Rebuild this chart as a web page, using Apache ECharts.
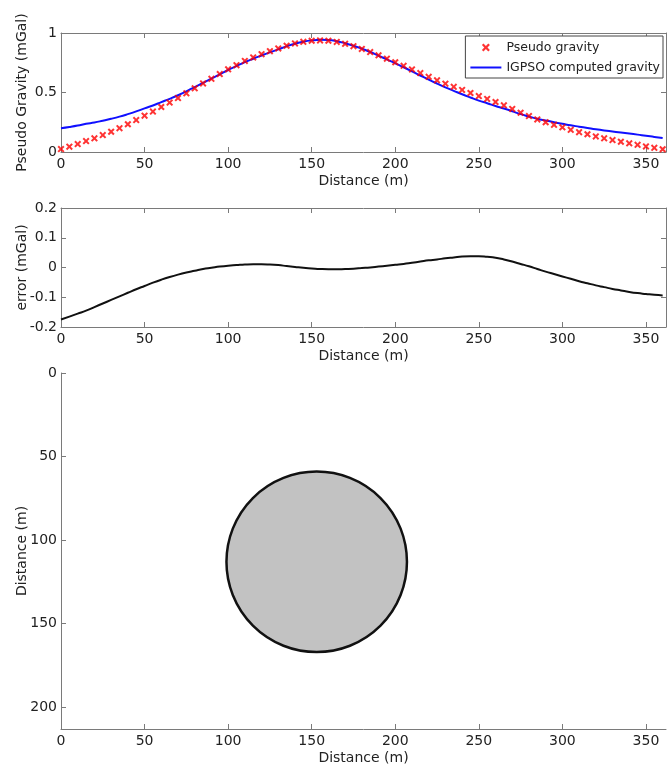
<!DOCTYPE html>
<html>
<head>
<meta charset="utf-8">
<script src="https://cdn.jsdelivr.net/npm/echarts/dist/echarts.min.js"></script>
<style>
  html, body { margin: 0; padding: 0; background: #fff; }
  #chart { width: 667px; height: 767px; }
</style>
</head>
<body>
<div id="chart"></div>
<script>
// profile positions (m)
const distance = [0, 5, 10, 15, 20, 25, 30, 35, 40, 45, 50, 55, 60, 65, 70, 75, 80, 85, 90, 95,
  100, 105, 110, 115, 120, 125, 130, 135, 140, 145, 150, 155, 160, 165, 170, 175, 180, 185, 190, 195,
  200, 205, 210, 215, 220, 225, 230, 235, 240, 245, 250, 255, 260, 265, 270, 275, 280, 285, 290, 295,
  300, 305, 310, 315, 320, 325, 330, 335, 340, 345, 350, 355, 360]

// red crosses
const pseudoGravity = [0.025, 0.045, 0.067, 0.092, 0.115, 0.142, 0.170, 0.200, 0.233, 0.268,
  0.305, 0.340, 0.378, 0.415, 0.453, 0.493, 0.535, 0.576, 0.615, 0.655,
  0.695, 0.730, 0.765, 0.795, 0.822, 0.847, 0.870, 0.893, 0.912, 0.926,
  0.935, 0.938, 0.935, 0.925, 0.909, 0.889, 0.866, 0.840, 0.812, 0.784,
  0.754, 0.724, 0.694, 0.663, 0.632, 0.602, 0.574, 0.548, 0.522, 0.496,
  0.470, 0.446, 0.420, 0.392, 0.362, 0.330, 0.302, 0.274, 0.250, 0.228,
  0.207, 0.186, 0.167, 0.149, 0.131, 0.115, 0.100, 0.086, 0.073, 0.060,
  0.047, 0.035, 0.023]

// blue line
const computedGravity = [0.200, 0.210, 0.222, 0.237, 0.248, 0.263, 0.279, 0.297, 0.318, 0.341,
  0.367, 0.391, 0.419, 0.447, 0.477, 0.510, 0.546, 0.581, 0.616, 0.652,
  0.689, 0.722, 0.755, 0.784, 0.811, 0.837, 0.862, 0.888, 0.910, 0.927,
  0.938, 0.943, 0.941, 0.931, 0.914, 0.893, 0.868, 0.840, 0.809, 0.778,
  0.745, 0.712, 0.678, 0.643, 0.608, 0.575, 0.543, 0.514, 0.485, 0.458,
  0.432, 0.410, 0.387, 0.365, 0.342, 0.318, 0.298, 0.279, 0.264, 0.250,
  0.237, 0.224, 0.213, 0.202, 0.191, 0.181, 0.172, 0.163, 0.155, 0.146,
  0.136, 0.127, 0.117]

// middle panel
const errorValues = [-0.175, -0.165, -0.155, -0.145, -0.133, -0.121, -0.109, -0.097, -0.085, -0.073,
  -0.062, -0.051, -0.041, -0.032, -0.024, -0.017, -0.011, -0.005, -0.001, 0.003,
  0.006, 0.008, 0.010, 0.011, 0.011, 0.010, 0.008, 0.005, 0.002, -0.001,
  -0.003, -0.005, -0.006, -0.006, -0.005, -0.004, -0.002, 0.000, 0.003, 0.006,
  0.009, 0.012, 0.016, 0.020, 0.024, 0.027, 0.031, 0.034, 0.037, 0.038,
  0.038, 0.036, 0.033, 0.027, 0.020, 0.012, 0.004, -0.005, -0.014, -0.022,
  -0.030, -0.038, -0.046, -0.053, -0.060, -0.066, -0.072, -0.077, -0.082, -0.086,
  -0.089, -0.092, -0.094]

// sphere model: [x, depth, radius]
const body = [[153, 113, 54]]

const gravityTicks = [0, 0.5, 1]
const errorTicks = [-0.2, -0.1, 0, 0.1, 0.2]
const depthTicks = [0, 50, 100, 150, 200]

const font = 'DejaVu Sans'
const axisGray = '#7a7a7a'
const textColor = '#222'
const crossPath = 'path://M0,2L2,0L5,3L8,0L10,2L7,5L10,8L8,10L5,7L2,10L0,8L3,5Z'
const lineIcon = 'path://M0,0H31V2H0Z'

const pairs = (ys) => distance.map((d, i) => [d, ys[i]])

const lineOf = { show: true, onZero: false, lineStyle: { color: axisGray, width: 1 } }
const tickOf = { show: true, inside: true, length: 5, lineStyle: { color: axisGray } }

function bottomAxis(grid) {
  return {
    type: 'value', gridIndex: grid, position: 'bottom',
    min: 0, max: 362, interval: 50,
    name: 'Distance (m)', nameLocation: 'middle', nameGap: 22, nameMoveOverlap: false,
    nameTextStyle: { fontFamily: font, fontSize: 14, color: textColor },
    axisLine: lineOf,
    axisTick: tickOf,
    axisLabel: { margin: 5, fontFamily: font, fontSize: 14, color: textColor, showMaxLabel: false },
    splitLine: { show: false }
  }
}

function topAxis(grid) {
  return {
    type: 'value', gridIndex: grid, position: 'top',
    min: 0, max: 362, interval: 50,
    axisLine: lineOf,
    axisTick: tickOf,
    axisLabel: { show: false },
    splitLine: { show: false }
  }
}

function leftAxis(grid, name, ticks, extra) {
  return Object.assign({
    type: 'value', gridIndex: grid, position: 'left',
    min: ticks[0], max: ticks[ticks.length - 1], interval: ticks[1] - ticks[0],
    name: name, nameLocation: 'middle', nameGap: 32, nameMoveOverlap: false,
    nameTextStyle: { fontFamily: font, fontSize: 14, color: textColor },
    axisLine: lineOf,
    axisTick: tickOf,
    axisLabel: { margin: 4, fontFamily: font, fontSize: 14, color: textColor },
    splitLine: { show: false }
  }, extra || {})
}

function rightAxis(grid, ticks) {
  return {
    type: 'value', gridIndex: grid, position: 'right',
    min: ticks[0], max: ticks[ticks.length - 1], interval: ticks[1] - ticks[0],
    axisLine: lineOf,
    axisTick: tickOf,
    axisLabel: { show: false },
    splitLine: { show: false }
  }
}

const chart = echarts.init(document.getElementById('chart'))

chart.setOption({
  animation: false,
  backgroundColor: '#fff',
  grid: [
    { left: 61, right: 1, top: 33, height: 119, outerBoundsMode: 'none' },
    { left: 61, right: 1, top: 208, height: 119, outerBoundsMode: 'none' },
    { left: 61, right: 1, top: 373, height: 356, outerBoundsMode: 'none' }
  ],
  legend: {
    orient: 'vertical',
    right: 4, top: 36,
    itemWidth: 31, itemHeight: 8, itemGap: 7,
    padding: [5, 3, 4, 5],
    borderColor: '#444', borderWidth: 1,
    backgroundColor: '#fff',
    textStyle: { fontFamily: font, fontSize: 12.5, color: textColor },
    data: [
      { name: 'Pseudo gravity', icon: crossPath },
      { name: 'IGPSO computed gravity', icon: lineIcon }
    ]
  },
  xAxis: [
    bottomAxis(0), topAxis(0),
    bottomAxis(1), topAxis(1),
    bottomAxis(2)
  ],
  yAxis: [
    leftAxis(0, 'Pseudo Gravity (mGal)', gravityTicks), rightAxis(0, gravityTicks),
    leftAxis(1, 'error (mGal)', errorTicks), rightAxis(1, errorTicks),
    leftAxis(2, 'Distance (m)', depthTicks, {
      inverse: true, max: 213,
      axisLabel: { margin: 4, fontFamily: font, fontSize: 14, color: textColor, showMaxLabel: false }
    })
  ],
  series: [
    {
      name: 'Pseudo gravity',
      type: 'scatter',
      xAxisIndex: 0, yAxisIndex: 0,
      symbol: crossPath,
      symbolSize: 7,
      itemStyle: { color: '#ff0000' },
      data: pairs(pseudoGravity),
      z: 3
    },
    {
      name: 'IGPSO computed gravity',
      type: 'line',
      xAxisIndex: 0, yAxisIndex: 0,
      symbol: 'none',
      smooth: true,
      lineStyle: { color: '#1010ff', width: 2 },
      itemStyle: { color: '#1010ff' },
      data: pairs(computedGravity),
      z: 2
    },
    {
      name: 'error',
      type: 'line',
      xAxisIndex: 2, yAxisIndex: 2,
      symbol: 'none',
      smooth: true,
      lineStyle: { color: '#111', width: 2 },
      data: pairs(errorValues)
    },
    {
      name: 'body',
      type: 'custom',
      xAxisIndex: 4, yAxisIndex: 4,
      data: body,
      renderItem: function (params, api) {
        const c = api.coord([api.value(0), api.value(1)])
        const s = api.size([api.value(2), api.value(2)])
        return {
          type: 'circle',
          shape: { cx: c[0], cy: c[1], r: (s[0] + s[1]) / 2 },
          style: { fill: '#c2c2c2', stroke: '#111', lineWidth: 2.5 }
        }
      }
    }
  ]
})
</script>
</body>
</html>
